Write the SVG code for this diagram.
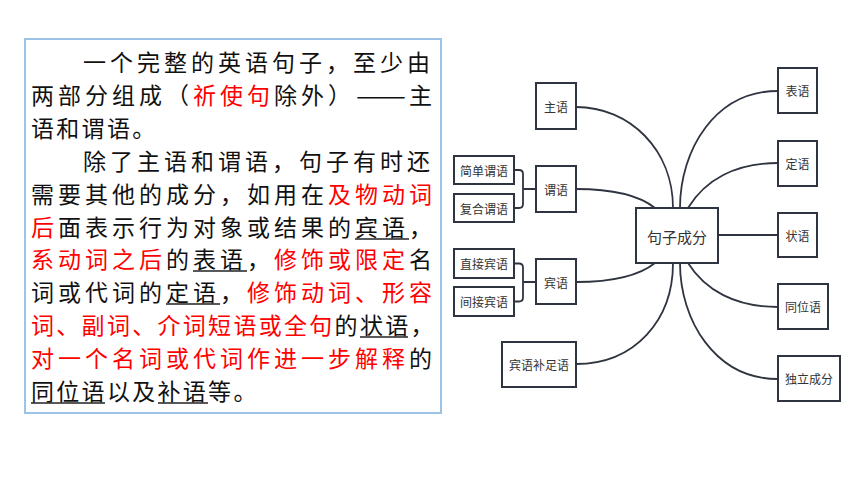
<svg xmlns="http://www.w3.org/2000/svg" width="860" height="484" viewBox="0 0 860 484">
<style>
.p{font-family:"Noto Sans CJK SC","Noto Sans",sans-serif;font-size:23px;fill:#111}
.j{letter-spacing:4px}
.n{letter-spacing:2.3px}
.r{fill:#ff0000}
.ul{stroke:#222;stroke-width:1.4}
.box{fill:#fff;stroke:#2f3540;stroke-width:2}
.lbl{font-family:"Noto Sans CJK SC","Noto Sans",sans-serif;font-size:12px;fill:#333;text-anchor:middle;dominant-baseline:central}
.big{font-size:15px}
.c{fill:none;stroke:#2f3540;stroke-width:1.8}
</style>
<rect width="860" height="484" fill="#fff"/>
<rect x="25" y="39" width="416" height="374" fill="#fff" stroke="#9dc3e6" stroke-width="2"/>
<g id="text">
<text class="p j" x="83" y="71">一个完整的英语句子，至少由</text>
<text class="p j" x="31" y="104">两部分组成（<tspan class="r">祈使句</tspan>除外）</text>
<text class="p" x="356" y="104" textLength="50" lengthAdjust="spacingAndGlyphs">——</text>
<text class="p" x="409" y="104">主</text>
<text class="p n" x="31" y="137">语和谓语。</text>
<text class="p j" x="83" y="170">除了主语和谓语，句子有时还</text>
<text class="p j" x="31" y="203">需要其他的成分，如用在<tspan class="r">及物动词</tspan></text>
<text class="p j" x="31" y="236"><tspan class="r">后</tspan>面表示行为对象或结果的宾语，</text>
<text class="p j" x="31" y="268"><tspan class="r">系动词之后</tspan>的表语，<tspan class="r">修饰或限定</tspan>名</text>
<text class="p j" x="31" y="301">词或代词的定语，<tspan class="r">修饰动词、形容</tspan></text>
<text class="p n" x="31" y="334"><tspan class="r">词、副词、介词短语或全句</tspan>的状语，</text>
<text class="p j" x="31" y="367"><tspan class="r">对一个名词或代词作进一步解释</tspan>的</text>
<text class="p n" x="31" y="400">同位语以及补语等。</text>
<line class="ul" x1="355" y1="239" x2="409" y2="239"/>
<line class="ul" x1="193" y1="271" x2="247" y2="271"/>
<line class="ul" x1="166" y1="304" x2="220" y2="304"/>
<line class="ul" x1="360" y1="337" x2="408" y2="337"/>
<line class="ul" x1="31" y1="403" x2="105" y2="403"/>
<line class="ul" x1="158" y1="403" x2="208" y2="403"/>
</g>
<g id="connectors">
<path class="c" d="M576,107 C630,107 673,150 673,208"/>
<path class="c" d="M576,189 C615,189 640,196 655,208"/>
<path class="c" d="M576,282 C615,282 640,275 655,263"/>
<path class="c" d="M576,364 C635,364 673,320 673,263"/>
<path class="c" d="M680,208 C680,150 715,91 778,91"/>
<path class="c" d="M688,208 C705,180 735,163 778,163"/>
<path class="c" d="M718,235 H778"/>
<path class="c" d="M688,263 C705,290 735,307 778,307"/>
<path class="c" d="M680,263 C680,320 715,379 778,379"/>
<path class="c" d="M514,170 H519 Q523,170 523,174 V204 Q523,208 519,208 H514 M523,189 H536"/>
<path class="c" d="M514,263.5 H519 Q523,263.5 523,267.5 V297.5 Q523,301.5 519,301.5 H514 M523,282 H536"/>
</g>
<g id="n-center"><rect class="box" x="636" y="208" width="82" height="55"/><text class="lbl big" x="677" y="236">句子成分</text></g>
<g id="n-zhuyu"><rect class="box" x="536" y="83" width="40" height="46"/><text class="lbl" x="556" y="106">主语</text></g>
<g id="n-weiyu"><rect class="box" x="536" y="166" width="40" height="46"/><text class="lbl" x="556" y="189">谓语</text></g>
<g id="n-jiandan"><rect class="box" x="454" y="156" width="60" height="28"/><text class="lbl" x="484" y="170">简单谓语</text></g>
<g id="n-fuhe"><rect class="box" x="454" y="194" width="60" height="28"/><text class="lbl" x="484" y="208">复合谓语</text></g>
<g id="n-binyu"><rect class="box" x="536" y="259" width="40" height="45"/><text class="lbl" x="556" y="282">宾语</text></g>
<g id="n-zhijie"><rect class="box" x="454" y="249" width="60" height="29"/><text class="lbl" x="484" y="263.5">直接宾语</text></g>
<g id="n-jianjie"><rect class="box" x="454" y="287" width="60" height="29"/><text class="lbl" x="484" y="301.5">间接宾语</text></g>
<g id="n-buzu"><rect class="box" x="502" y="342" width="74" height="45"/><text class="lbl" x="539" y="364.5">宾语补足语</text></g>
<g id="n-biaoyu"><rect class="box" x="778" y="68" width="39" height="45"/><text class="lbl" x="797.5" y="90.5">表语</text></g>
<g id="n-dingyu"><rect class="box" x="778" y="141" width="39" height="45"/><text class="lbl" x="797.5" y="163.5">定语</text></g>
<g id="n-zhuangyu"><rect class="box" x="778" y="213" width="39" height="44"/><text class="lbl" x="797.5" y="235">状语</text></g>
<g id="n-tongwei"><rect class="box" x="778" y="284" width="50" height="45"/><text class="lbl" x="803" y="306.5">同位语</text></g>
<g id="n-duli"><rect class="box" x="778" y="356" width="62" height="45"/><text class="lbl" x="809" y="378.5">独立成分</text></g>
</svg>
